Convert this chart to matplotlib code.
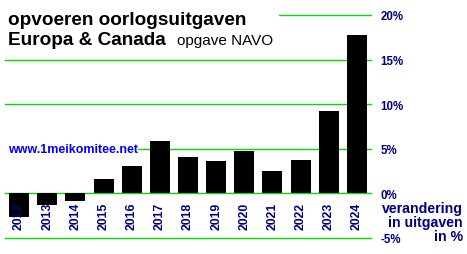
import matplotlib
matplotlib.use("Agg")
import matplotlib.pyplot as plt
from matplotlib.patches import Rectangle

plt.rcParams['font.family'] = ['Liberation Sans', 'DejaVu Sans']

# data (% change in spending)
years = ['2012', '2013', '2014', '2015', '2016', '2017', '2018',
         '2019', '2020', '2021', '2022', '2023', '2024']
change = [-2.6, -1.3, -0.85, 1.6, 3.05, 5.9, 4.1, 3.6, 4.7, 2.5, 3.7, 9.25, 17.8]
yticks = [-5, 0, 5, 10, 15, 20]
ytick_labels = ['-5%', '0%', '5%', '10%', '15%', '20%']
axis_note = ['verandering', 'in uitgaven', 'in %']

GREEN = '#00e000'
NAVY = '#000080'
W, H = 467, 255

fig = plt.figure(figsize=(W / 100, H / 100), dpi=100)
ax = fig.add_axes([5 / W, 1 - 239 / H, (371 - 5) / W, (239 - 16) / H])

x = range(len(years))
ax.bar(x, change, width=0.71, color='black', zorder=3)
ax.set_xlim(-0.5, len(years) - 0.5)
ax.set_ylim(-5, 20)

ax.set_yticks(yticks)
ax.set_yticklabels(ytick_labels)
ax.yaxis.tick_right()
ax.tick_params(axis='y', length=0, pad=7, labelsize=8.3, labelcolor=NAVY)
for t in ax.get_yticklabels():
    t.set_fontweight('bold')
ax.set_xticks([])
ax.grid(axis='y', color=GREEN, linewidth=1, zorder=1)
for gl in ax.get_ygridlines():
    gl.set_clip_on(False)
for s in ax.spines.values():
    s.set_visible(False)

# year labels inside the plot, just under the zero line
for i, yr in enumerate(years):
    ax.text(i, -0.9, yr, rotation=90, ha='center', va='top', fontsize=8.8,
            fontweight='bold', color=NAVY, zorder=4)

# white block hides the start of the 20% line behind the title
fig.add_artist(Rectangle((0, 1 - 30 / H), 279 / W, 30 / H, transform=fig.transFigure,
                         facecolor='white', edgecolor='none', zorder=5))

fig.text(8 / W, 1 - 25 / H, 'opvoeren oorlogsuitgaven', fontsize=13.7, fontweight='bold',
         color='black', va='baseline', ha='left', zorder=6)
fig.text(8 / W, 1 - 45 / H, 'Europa & Canada', fontsize=13.7, fontweight='bold',
         color='black', va='baseline', ha='left', zorder=6)
fig.text(177 / W, 1 - 45 / H, 'opgave NAVO', fontsize=11, color='black',
         va='baseline', ha='left', zorder=6)

# white block behind the site name so the 5% line starts after it
fig.add_artist(Rectangle((0, 1 - 157 / H), 138 / W, 14 / H, transform=fig.transFigure,
                         facecolor='white', edgecolor='none', zorder=5))
fig.text(8 / W, 1 - 150 / H, 'www.1meikomitee.net', fontsize=9, fontweight='bold',
         color='#0000ff', va='center', ha='left', zorder=6)

# axis note, one line at a time, right aligned
for k, line in enumerate(axis_note):
    fig.text(463 / W, 1 - (209 + 14 * k) / H, line, fontsize=10.2,
             fontweight='bold', color=NAVY, ha='right', va='center')

fig.savefig('out.png', dpi=100)
